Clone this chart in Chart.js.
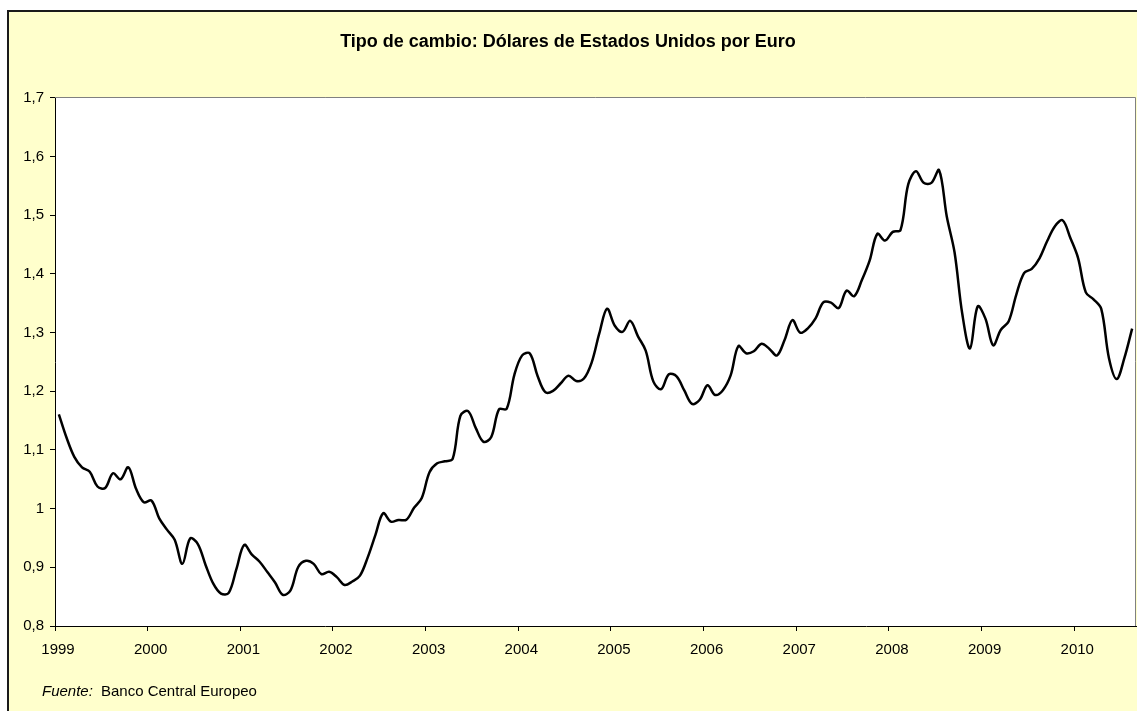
<!DOCTYPE html>
<html>
<head>
<meta charset="utf-8">
<script src="https://cdn.jsdelivr.net/npm/chart.js@4.4.1/dist/chart.umd.min.js"></script>
<style>
  html, body { margin: 0; padding: 0; background: #ffffff; overflow: hidden; }
  #frame { position: absolute; left: 7px; top: 10px; width: 1150px; height: 720px;
           background: #FFFFCC; border: 2px solid #1a1a1a; box-sizing: border-box; }
  #c { position: absolute; left: 0; top: 0; }
</style>
</head>
<body>
<div id="frame"></div>
<canvas id="c" width="1137" height="711"></canvas>
<script>
// ---- data (monthly, Jan 1999 .. Aug 2010) ----
const years = ['1999','2000','2001','2002','2003','2004','2005','2006','2007','2008','2009','2010'];
const yTickLabels = ['0,8','0,9','1','1,1','1,2','1,3','1,4','1,5','1,6','1,7'];
const v1999 = [1.1608, 1.1208, 1.0883, 1.0704, 1.0628, 1.0378, 1.0353, 1.0604, 1.0501, 1.0706, 1.0338, 1.0110];
const v2000 = [1.0137, 0.9834, 0.9643, 0.9470, 0.9060, 0.9492, 0.9397, 0.9041, 0.8721, 0.8552, 0.8564, 0.8973];
const v2001 = [0.9383, 0.9217, 0.9095, 0.8920, 0.8742, 0.8532, 0.8607, 0.9005, 0.9111, 0.9059, 0.8883, 0.8924];
const v2002 = [0.8833, 0.8700, 0.8758, 0.8858, 0.9170, 0.9554, 0.9922, 0.9778, 0.9808, 0.9811, 1.0014, 1.0183];
const v2003 = [1.0622, 1.0773, 1.0807, 1.0848, 1.1582, 1.1663, 1.1372, 1.1139, 1.1222, 1.1692, 1.1702, 1.2286];
const v2004 = [1.2613, 1.2646, 1.2262, 1.1985, 1.2007, 1.2138, 1.2266, 1.2176, 1.2218, 1.2490, 1.2991, 1.3408];
const v2005 = [1.3119, 1.3014, 1.3201, 1.2938, 1.2694, 1.2165, 1.2037, 1.2292, 1.2256, 1.2015, 1.1786, 1.1856];
const v2006 = [1.2103, 1.1938, 1.2020, 1.2271, 1.2770, 1.2650, 1.2684, 1.2811, 1.2727, 1.2611, 1.2881, 1.3213];
const v2007 = [1.2999, 1.3074, 1.3242, 1.3516, 1.3511, 1.3419, 1.3716, 1.3622, 1.3896, 1.4227, 1.4684, 1.4570];
const v2008 = [1.4718, 1.4748, 1.5527, 1.5751, 1.5557, 1.5553, 1.5770, 1.4975, 1.4370, 1.3322, 1.2732, 1.3449];
const v2009 = [1.3239, 1.2785, 1.3050, 1.3190, 1.3650, 1.4016, 1.4088, 1.4268, 1.4562, 1.4816, 1.4914, 1.4614];
const v2010 = [1.4272, 1.3686, 1.3569, 1.3406, 1.2565, 1.2209, 1.2570, 1.3070];
const usdPerEur = [].concat(v1999, v2000, v2001, v2002, v2003, v2004, v2005, v2006, v2007, v2008, v2009, v2010);

const FONT = "'Liberation Sans', Arial, Helvetica, sans-serif";
Chart.defaults.font.family = FONT;
Chart.defaults.color = '#000';

const points = usdPerEur.map((v, i) => ({ x: i + 0.5, y: v }));

const plotFrame = {
  id: 'plotFrame',
  beforeDraw(chart) {
    const { ctx, chartArea: a } = chart;
    ctx.save();
    ctx.fillStyle = '#ffffff';
    ctx.fillRect(a.left, a.top, a.right - a.left, a.bottom - a.top);
    ctx.restore();
  },
  beforeDatasetsDraw(chart) {
    const { ctx, chartArea: a } = chart;
    ctx.save();
    ctx.strokeStyle = '#808080';
    ctx.lineWidth = 1;
    ctx.beginPath();
    ctx.moveTo(a.left, a.top - 0.5);
    ctx.lineTo(a.right - 0.5, a.top - 0.5);
    ctx.lineTo(a.right - 0.5, a.bottom);
    ctx.stroke();
    ctx.restore();
  },
  afterDraw(chart) {
    const { ctx } = chart;
    ctx.save();
    ctx.fillStyle = '#000';
    ctx.textBaseline = 'alphabetic';
    ctx.font = 'italic 15px ' + FONT;
    ctx.fillText('Fuente:', 42, 696);
    ctx.font = '15px ' + FONT;
    ctx.fillText('Banco Central Europeo', 101, 696);
    ctx.restore();
  }
};

new Chart(document.getElementById('c'), {
  type: 'line',
  data: {
    datasets: [{
      label: 'USD por EUR',
      data: points,
      borderColor: '#000000',
      borderWidth: 2.5,
      pointRadius: 0,
      tension: 0.35,
      fill: false
    }]
  },
  options: {
    responsive: false,
    animation: false,
    devicePixelRatio: 1,
    layout: { padding: { left: 0, right: 1, top: 0, bottom: 0 } },
    plugins: {
      legend: { display: false },
      tooltip: { enabled: false },
      title: {
        display: true,
        text: 'Tipo de cambio: Dólares de Estados Unidos por Euro',
        font: { size: 18, weight: 'bold' },
        color: '#000',
        padding: { top: 31, bottom: 45.4 }
      }
    },
    scales: {
      x: {
        type: 'linear',
        min: 0,
        max: usdPerEur.length,
        afterBuildTicks(scale) {
          scale.ticks = years.map((y, i) => ({ value: i * 12 }));
        },
        afterFit(scale) { scale.height = 85; },
        grid: { drawOnChartArea: false, drawTicks: true, tickLength: 5, color: '#000', lineWidth: 1 },
        border: { display: true, color: '#000', width: 1 },
        ticks: {
          autoSkip: false,
          maxRotation: 0,
          padding: 10,
          labelOffset: 3,
          font: { size: 15 },
          color: '#000',
          callback: (v) => years[Math.round(v / 12)]
        }
      },
      y: {
        type: 'linear',
        min: 0.8,
        max: 1.7,
        afterBuildTicks(scale) {
          scale.ticks = yTickLabels.map((t, i) => ({ value: 0.8 + i * 0.1 }));
        },
        afterFit(scale) { scale.width = 55; },
        grid: { drawOnChartArea: false, drawTicks: true, tickLength: 5, color: '#000', lineWidth: 1 },
        border: { display: true, color: '#000', width: 1 },
        ticks: {
          padding: 6,
          font: { size: 15 },
          color: '#000',
          callback: (v, i) => yTickLabels[i]
        }
      }
    }
  },
  plugins: [plotFrame]
});
</script>
</body>
</html>
